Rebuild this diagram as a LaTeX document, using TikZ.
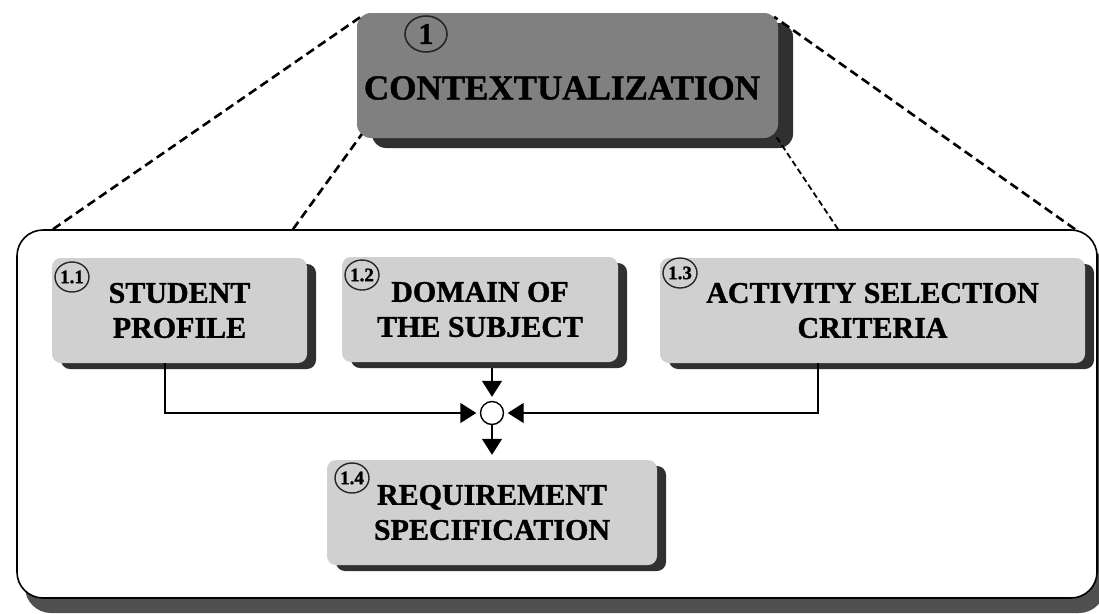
\documentclass[tikz,border=0pt]{standalone}
\usepackage{fontspec}
\setmainfont{Liberation Serif}[BoldFeatures={FakeBold=1.2}]
\usetikzlibrary{arrows.meta,shapes.geometric,shadows}
\definecolor{boxlight}{HTML}{D0D0D0}
\definecolor{boxdark}{HTML}{808080}
\definecolor{shade}{HTML}{303030}
\definecolor{frameshade}{HTML}{505050}
\begin{document}
\begin{tikzpicture}[x=1pt,y=-1pt,
  mainbox/.style={rectangle, rounded corners=14pt, fill=boxdark, inner sep=0pt,
    minimum width=421pt, minimum height=125pt,
    drop shadow={shadow xshift=15pt, shadow yshift=-10pt, fill=shade, opacity=1}},
  subbox/.style={rectangle, rounded corners=9pt, fill=boxlight, inner sep=0pt,
    align=center, minimum height=105pt,
    font=\fontsize{30}{35}\selectfont\bfseries,
    drop shadow={shadow xshift=9pt, shadow yshift=-6pt, fill=shade, opacity=1}},
  framebox/.style={rectangle, rounded corners=26pt, draw=black, fill=white,
    line width=1.6pt, inner sep=0pt, minimum width=1080pt, minimum height=368pt,
    drop shadow={shadow xshift=8pt, shadow yshift=-15pt, fill=frameshade, opacity=1}},
  tag/.style={ellipse, draw=black!85, line width=1.4pt, inner sep=0pt,
    minimum width=34pt, minimum height=30pt,
    font=\fontsize{19}{19}\selectfont\bfseries},
  zoomline/.style={dashed, dash pattern=on 9pt off 5pt, line width=2.6pt},
  conn/.style={line width=1.4pt, -{Triangle[width=20pt,length=16pt]}},
  joint/.style={circle, draw=black, fill=white, line width=1.4pt,
    minimum size=23pt, inner sep=0pt}]

\clip (0,0) rectangle (1099,613);
\useasboundingbox (0,0) rectangle (1099,613);

% enclosing frame of the sub-activities
\node[framebox] (frame) at (557,414) {};

% top-level activity
\node[mainbox] (ctx) at (567.5,75.5) {};
\node[ellipse, draw=black!85, line width=1.6pt, inner sep=0pt,
  minimum width=42pt, minimum height=36pt,
  font=\fontsize{30}{30}\selectfont\bfseries] (ctxtag) at (426,34) {1};
\node[font=\fontsize{35}{35}\selectfont\bfseries] (ctxtext) at (562,88) {CONTEXTUALIZATION};

% zoom lines from the activity down to its frame
\coordinate (fa) at (frame.north -| 53,0);
\coordinate (fb) at (frame.north -| 293,0);
\coordinate (fc) at (frame.north -| 838,0);
\coordinate (fd) at (frame.north -| 1075,0);
\draw[zoomline] (fa) -- ([shift={(4,4)}]ctx.north west);
\draw[zoomline] (fb) -- ([shift={(5,-4)}]ctx.south west);
\draw[zoomline, line width=1.8pt, dash pattern=on 6pt off 3.5pt] (fc) -- ([shift={(-3,-3)}]ctx.south east);
\draw[zoomline] (fd) -- ([shift={(-4,4)}]ctx.north east);

% sub-activities
\node[subbox, minimum width=255pt] (n11) at (179.5,310.5) {STUDENT\\PROFILE};
\node[subbox, minimum width=276pt] (n12) at (480,309.5) {DOMAIN OF\\THE SUBJECT};
\node[subbox, minimum width=425pt] (n13) at (872.5,310.5) {ACTIVITY SELECTION\\CRITERIA};
\node[subbox, minimum width=330pt] (n14) at (492,512.5) {REQUIREMENT\\SPECIFICATION};

\node[tag] (t11) at (72,277) {1.1};
\node[tag] (t12) at (362,275) {1.2};
\node[tag] (t13) at (680,273) {1.3};
\node[tag] (t14) at (352,478) {1.4};

% junction
\node[joint] (junc) at (492,413) {};

\draw[conn, shorten >=3.5pt] ([xshift=-14.5pt]n11.south) |- (junc.west);
\draw[conn, shorten >=3.5pt] ([xshift=-54.5pt]n13.south) |- (junc.east);
\draw[conn, shorten >=4pt] ([xshift=12pt,yshift=-6pt]n12.south) -- (junc.north);
\draw[conn, shorten >=5pt] (junc.south) -- (n14.north);
\end{tikzpicture}
\end{document}
